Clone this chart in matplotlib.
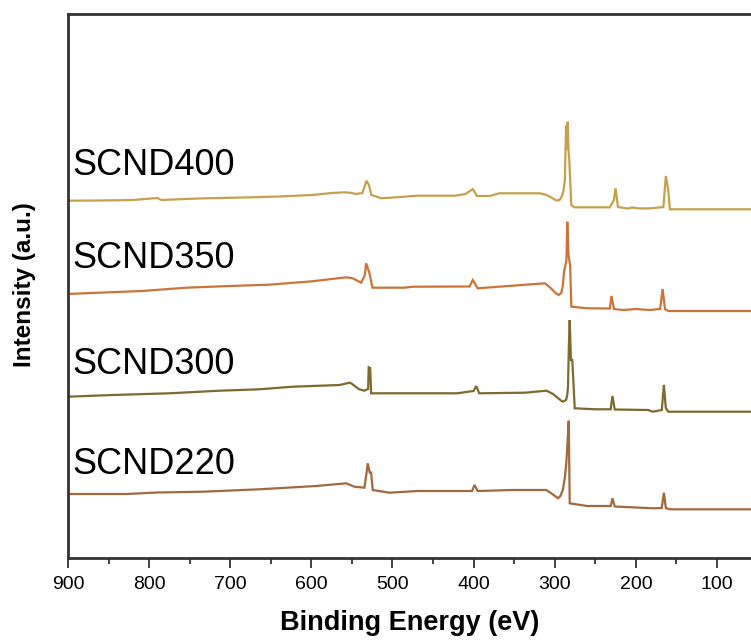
import matplotlib
matplotlib.use("Agg")
import matplotlib.pyplot as plt
from matplotlib.ticker import MultipleLocator

# XPS survey spectra (binding energy in eV, intensity in a.u.)
e_400 = [900, 862, 820, 790, 785, 740, 673, 640, 599, 575, 559, 552, 545, 537, 532, 529,
         526, 513.6, 490, 470, 423, 410, 401, 396, 380, 368, 318.5, 310, 303, 298, 294,
         291, 289, 287.5, 286, 285, 284, 283, 282, 279.5, 276, 232, 227, 225, 222, 210,
         205, 195, 181, 166, 163, 160, 158, 50]
i_400 = [357.3, 357.5, 358, 360, 358, 359.5, 360.7, 361.5, 363, 365, 365.7, 365.3, 364,
         365, 377.3, 373, 363, 359.7, 361, 362.3, 362.3, 364, 369, 362, 362, 364.7, 364.7,
         363, 360, 357.5, 358, 362, 368, 378, 432.3, 408, 436.3, 408, 398, 353, 350.7,
         350.7, 358, 369.7, 351, 349.5, 350.5, 349.5, 349.7, 351, 382, 368, 348.7, 348.7]

e_350 = [900, 862, 808.6, 754, 700, 652, 599, 557, 549, 538.6, 534, 532.5, 528.4, 524.7,
         486, 474, 405, 401, 395, 352, 312, 305, 299, 295, 292, 290, 288.5, 285.5, 284.5,
         283, 281, 279.5, 260, 232, 230, 227, 215, 200, 183, 170, 167, 164, 160, 50]
i_350 = [264, 265.3, 267, 270.3, 272, 273.3, 276.7, 280.7, 279.7, 275.3, 283, 294.7, 285,
         270.3, 270.3, 271.3, 271.5, 278, 269.7, 272.3, 274.7, 270, 265, 263, 265, 272,
         286.3, 298, 336.3, 303, 293, 251.3, 249.7, 249.5, 262, 249, 248, 249, 248, 249,
         269, 249, 247, 247]

e_300 = [900, 845, 775, 713, 664, 623, 565, 553, 551, 541, 534.6, 530, 529.3, 527.5,
         526.3, 420, 400, 396.7, 393, 337, 310, 302, 296, 291.5, 289.8, 286, 284.5, 283.6,
         282.5, 281.5, 280, 278.3, 275.3, 250, 231, 228.8, 226, 185, 179, 168, 165.4,
         163, 160, 50]
i_300 = [161.3, 163, 164.7, 167.3, 168.7, 171.3, 173, 175.3, 174.7, 168.7, 167.3, 169,
         190.7, 190, 164.7, 164.7, 167, 172, 164.7, 165.3, 167.3, 164, 160, 157, 156.3,
         158, 163, 171.3, 213, 238, 198, 198, 149.7, 148.7, 148.7, 162, 148.5, 148,
         146.3, 148, 173, 150, 146.3, 146.3]

e_220 = [900, 828, 790, 734, 664, 594, 557, 547, 534.6, 531.5, 530.5, 528, 526.3, 524.3,
         503.7, 469, 402, 398.8, 395, 352, 310.3, 303, 298, 296, 293, 290, 287.5, 285.6,
         284, 282.7, 281.5, 260, 231, 228.8, 226, 178.6, 168, 165.4, 163, 158, 50]
i_220 = [64, 64, 65.5, 66.3, 68.7, 72, 74.7, 71.3, 70.3, 88, 94.7, 85.3, 85.3, 68, 65.3,
         67, 67, 73, 67, 68, 68, 64, 61, 59.7, 62, 68, 80, 96.3, 118, 137.3, 54.7, 52, 52,
         59.7, 51.5, 49.7, 50, 65.3, 50, 48.7, 48.7]

samples = ["SCND400", "SCND350", "SCND300", "SCND220"]
label_y = [383, 290, 184, 84]
colors = ["#C6A14C", "#CC7438", "#7F6A2E", "#A4683E"]

fig = plt.figure(figsize=(7.51, 6.42), dpi=100)
ax = fig.add_axes([68 / 751, (642 - 558) / 642, 1 - 68 / 751, 544 / 642])

for e, i, c in zip([e_400, e_350, e_300, e_220], [i_400, i_350, i_300, i_220], colors):
    ax.plot(e, i, color=c, lw=1.6, solid_joinstyle="miter")

for name, y in zip(samples, label_y):
    ax.text(895, y, name, fontsize=26, family="Liberation Sans", va="baseline", ha="left")

ax.set_xlim(900, 58)
ax.set_ylim(0, 544)
ax.xaxis.set_major_locator(MultipleLocator(100))
ax.xaxis.set_minor_locator(MultipleLocator(50))
ax.tick_params(axis="x", which="major", direction="out", length=7, width=1.3,
               colors="#333333", labelcolor="black", labelsize=14, pad=6)
ax.tick_params(axis="x", which="minor", direction="out", length=4, width=1.3,
               colors="#333333")
ax.set_yticks([])
for lab in ax.get_xticklabels():
    lab.set_family("Liberation Sans")

for side in ["left", "bottom", "top"]:
    ax.spines[side].set_linewidth(2)
    ax.spines[side].set_color("#333333")
ax.spines["right"].set_visible(False)

ax.set_xlabel("Binding Energy (eV)", fontsize=19.5, fontweight="bold",
              family="Liberation Sans", labelpad=12)
fig.text(25 / 751, 1 - 285 / 642, "Intensity (a.u.)", rotation=90, fontsize=17.5,
         fontweight="bold", family="Liberation Sans", ha="center", va="center")

fig.savefig("out.png", dpi=100)
